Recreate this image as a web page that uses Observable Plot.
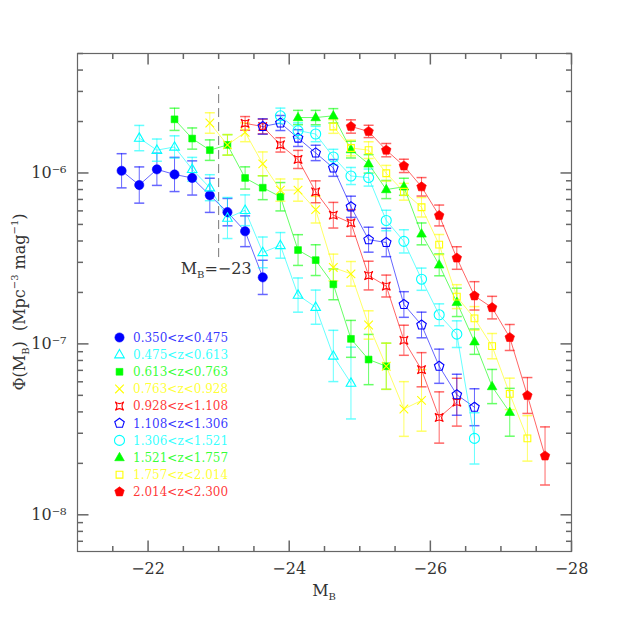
<!DOCTYPE html>
<html><head><meta charset="utf-8">
<script src="https://cdn.jsdelivr.net/npm/d3@7"></script>
<script src="https://cdn.jsdelivr.net/npm/@observablehq/plot@0.6"></script>
<style>html,body{margin:0;padding:0;background:#fff}svg{display:block}</style>
</head><body><div id="chart"></div>
<script>
// ---- data (absolute magnitude M_B, space density Phi, log error in dex) ----
const magS1 = [-21.625,-21.875,-22.125,-22.375,-22.625,-22.875,-23.125,-23.375,-23.625];
const phiS1 = [1.03e-6,8.5e-7,1.05e-6,9.8e-7,9.35e-7,7.4e-7,5.9e-7,4.56e-7,2.45e-7];
const errS1 = [0.10,0.106,0.094,0.10,0.10,0.10,0.08,0.09,0.10];

const magS2 = [-21.875,-22.125,-22.375,-22.625,-22.875,-23.125,-23.375,-23.625,-23.875,-24.125,-24.375,-24.625,-24.875];
const phiS2 = [1.6e-6,1.36e-6,1.42e-6,1.05e-6,8.2e-7,5.45e-7,6.05e-7,3.43e-7,3.77e-7,1.93e-7,1.64e-7,8.5e-8,5.9e-8];
const errS2 = [0.074,0.065,0.065,0.07,0.076,0.12,0.09,0.09,0.075,0.1,0.1,0.15,0.21];

const magS3 = [-22.375,-22.625,-22.875,-23.125,-23.375,-23.625,-23.875,-24.125,-24.375,-24.625,-24.875,-25.125,-25.375];
const phiS3 = [2.06e-6,1.59e-6,1.36e-6,1.46e-6,9.35e-7,8.2e-7,7.26e-7,3.54e-7,3.09e-7,2.23e-7,1.07e-7,8.1e-8,7.4e-8];
const errS3 = [0.065,0.062,0.06,0.06,0.065,0.07,0.083,0.09,0.09,0.09,0.108,0.147,0.135];

const magS4 = [-22.875,-23.125,-23.375,-23.625,-23.875,-24.125,-24.375,-24.625,-24.875,-25.125,-25.375,-25.625,-25.875];
const phiS4 = [1.96e-6,1.46e-6,1.73e-6,1.13e-6,7.94e-7,7.94e-7,6.1e-7,2.8e-7,2.57e-7,1.29e-7,7.4e-8,4.16e-8,4.67e-8];
const errS4 = [0.06,0.06,0.055,0.07,0.065,0.065,0.078,0.078,0.072,0.083,0.135,0.16,0.18];

const magS5 = [-23.375,-23.625,-23.875,-24.125,-24.375,-24.625,-24.875,-25.125,-25.375,-25.625,-25.875,-26.125,-26.375];
const phiS5 = [1.95e-6,1.87e-6,1.46e-6,1.2e-6,7.76e-7,5.66e-7,5.1e-7,2.51e-7,2.18e-7,1.05e-7,7.06e-8,3.71e-8,4.56e-8];
const errS5 = [0.04,0.043,0.042,0.053,0.064,0.075,0.078,0.084,0.064,0.088,0.1,0.15,0.14];

const magS6 = [-23.625,-23.875,-24.125,-24.375,-24.625,-24.875,-25.125,-25.375,-25.625,-25.875,-26.125,-26.375,-26.625];
const phiS6 = [1.87e-6,1.96e-6,1.6e-6,1.31e-6,1.07e-6,6.34e-7,4.07e-7,3.92e-7,1.7e-7,1.29e-7,7.4e-8,5.04e-8,4.26e-8];
const errS6 = [0.045,0.044,0.049,0.045,0.049,0.062,0.073,0.083,0.075,0.075,0.1,0.12,0.108];

const magS7 = [-23.875,-24.125,-24.375,-24.625,-24.875,-25.125,-25.375,-25.625,-25.875,-26.125,-26.375,-26.625];
const phiS7 = [2.16e-6,1.77e-6,1.69e-6,1.24e-6,9.6e-7,9.4e-7,5.27e-7,3.98e-7,2.39e-7,1.48e-7,1.14e-7,2.8e-8];
const errS7 = [0.045,0.045,0.045,0.045,0.05,0.05,0.06,0.068,0.065,0.064,0.078,0.15];

const magS8 = [-24.125,-24.375,-24.625,-24.875,-25.125,-25.375,-25.625,-25.875,-26.125,-26.375,-26.625,-26.875,-27.125];
const phiS8 = [2.11e-6,2.11e-6,2.16e-6,1.37e-6,1.13e-6,8.0e-7,8.3e-7,4.4e-7,2.9e-7,1.75e-7,1.03e-7,5.63e-8,3.98e-8];
const errS8 = [0.042,0.042,0.042,0.049,0.054,0.053,0.05,0.064,0.064,0.083,0.074,0.1,0.14];

const magS9 = [-24.625,-24.875,-25.125,-25.375,-25.625,-25.875,-26.125,-26.375,-26.625,-26.875,-27.125,-27.375];
const phiS9 = [1.87e-6,1.4e-6,1.36e-6,9.96e-7,7.76e-7,6.3e-7,3.81e-7,1.89e-7,1.41e-7,9.7e-8,5.1e-8,2.8e-8];
const errS9 = [0.04,0.046,0.049,0.046,0.049,0.057,0.059,0.07,0.069,0.074,0.092,0.133];

const magS10 = [-24.875,-25.125,-25.375,-25.625,-25.875,-26.125,-26.375,-26.625,-26.875,-27.125,-27.375,-27.625];
const phiS10 = [1.87e-6,1.75e-6,1.36e-6,1.1e-6,8.3e-7,5.64e-7,3.18e-7,1.91e-7,1.63e-7,1.09e-7,4.99e-8,2.21e-8];
const errS10 = [0.039,0.036,0.039,0.039,0.054,0.061,0.066,0.083,0.066,0.076,0.105,0.17];

const seriesLabels = ["0.350<z<0.475","0.475<z<0.613","0.613<z<0.763","0.763<z<0.928","0.928<z<1.108",
                      "1.108<z<1.306","1.306<z<1.521","1.521<z<1.757","1.757<z<2.014","2.014<z<2.300"];
const seriesColors = ["#0000ff","#00ffff","#00ff00","#ffff00","#ff0000","#0000ff","#00ffff","#00ff00","#ffff00","#ff0000"];
const seriesSymbols = ["circle","triangle","square","times","concave","pentagon","ring","triangle","square","pentagon"];
const seriesFilled = [true,false,true,false,false,false,false,true,false,true];

const xMajorTicks = [-22,-24,-26,-28];
const xMinorTicks = [-21.5,-22.5,-23,-23.5,-24.5,-25,-25.5,-26.5,-27,-27.5];
const yMajorTicks = [1e-8,1e-7,1e-6];
const cutMag = -23;          // M_B = -23 marker line
const cutRange = [3.2e-7, 3.2e-6];

// ---- symbols ----
const S = {
  circle:{draw(c){c.moveTo(4.6,0);c.arc(0,0,4.6,0,2*Math.PI);c.closePath();}},
  ring:{draw(c){c.moveTo(5,0);c.arc(0,0,5,0,2*Math.PI);c.closePath();}},
  triangle:{draw(c){c.moveTo(0,-5.2);c.lineTo(4.8,3.2);c.lineTo(-4.8,3.2);c.closePath();}},
  square:{draw(c){c.rect(-3.4,-3.4,6.8,6.8);}},
  times:{draw(c){const s=4.3;c.moveTo(-s,-s);c.lineTo(s,s);c.moveTo(s,-s);c.lineTo(-s,s);}},
  concave:{draw(c){const s=4.2,k=0.2*s;c.moveTo(-s,-s);c.quadraticCurveTo(0,-k,s,-s);c.quadraticCurveTo(k,0,s,s);
    c.quadraticCurveTo(0,k,-s,s);c.quadraticCurveTo(-k,0,-s,-s);c.closePath();}},
  pentagon:{draw(c){const r=5;for(let i=0;i<5;i++){const a=(-90+72*i)*Math.PI/180;const px=r*Math.cos(a),py=r*Math.sin(a);
    if(i===0)c.moveTo(px,py);else c.lineTo(px,py);}c.closePath();}}
};
const cap = {draw(c){c.moveTo(-5,0);c.lineTo(5,0);}};
const tick = (dx,dy)=>({draw(c){c.moveTo(0,0);c.lineTo(dx,dy);}});

const mags=[magS1,magS2,magS3,magS4,magS5,magS6,magS7,magS8,magS9,magS10];
const phis=[phiS1,phiS2,phiS3,phiS4,phiS5,phiS6,phiS7,phiS8,phiS9,phiS10];
const errs=[errS1,errS2,errS3,errS4,errS5,errS6,errS7,errS8,errS9,errS10];

const yMinorTicks=[];
for (let e=-9;e<=-6;e++) for (let k=2;k<=9;k++){const v=k*10**e; if(v>6.1e-9 && v<5e-6) yMinorTicks.push(v);}

const axisColor="#666";
const marks=[];
// inward ticks on all four sides
marks.push(Plot.dot(xMajorTicks,{x:d=>d,frameAnchor:"bottom",symbol:tick(0,-11),stroke:axisColor,fill:"none"}));
marks.push(Plot.dot(xMajorTicks,{x:d=>d,frameAnchor:"top",symbol:tick(0,11),stroke:axisColor,fill:"none"}));
marks.push(Plot.dot(xMinorTicks,{x:d=>d,frameAnchor:"bottom",symbol:tick(0,-5.5),stroke:axisColor,fill:"none"}));
marks.push(Plot.dot(xMinorTicks,{x:d=>d,frameAnchor:"top",symbol:tick(0,5.5),stroke:axisColor,fill:"none"}));
marks.push(Plot.dot(yMajorTicks,{y:d=>d,frameAnchor:"left",symbol:tick(11,0),stroke:axisColor,fill:"none"}));
marks.push(Plot.dot(yMajorTicks,{y:d=>d,frameAnchor:"right",symbol:tick(-11,0),stroke:axisColor,fill:"none"}));
marks.push(Plot.dot(yMinorTicks,{y:d=>d,frameAnchor:"left",symbol:tick(5.5,0),stroke:axisColor,fill:"none"}));
marks.push(Plot.dot(yMinorTicks,{y:d=>d,frameAnchor:"right",symbol:tick(-5.5,0),stroke:axisColor,fill:"none"}));
marks.push(Plot.frame({stroke:axisColor,strokeWidth:1.2}));
marks.push(Plot.axisX({ticks:xMajorTicks,tickSize:0,tickPadding:11,label:null,fontSize:16,
  fontFamily:"DejaVu Serif",fill:"#333",tickFormat:d=>"\u2212"+Math.abs(d)}));
const sup={"-":"\u207b","6":"\u2076","7":"\u2077","8":"\u2078"};
marks.push(Plot.axisY({ticks:yMajorTicks,tickSize:0,tickPadding:11,label:null,fontSize:16,
  fontFamily:"DejaVu Serif",fill:"#333",
  tickFormat:d=>"10"+String(Math.round(Math.log10(d))).split("").map(ch=>sup[ch]).join("")}));
marks.push(Plot.ruleX([{m:cutMag,y1:cutRange[0],y2:cutRange[1]}],{x:"m",y1:"y1",y2:"y2",stroke:"#777",strokeDasharray:"9,5"}));

const rowsAll = mags.map((ms,si)=>ms.map((m,i)=>({m,p:phis[si][i],lo:phis[si][i]*10**(-errs[si][i]),hi:phis[si][i]*10**(errs[si][i])})));
rowsAll.forEach((rows,si)=>{
  const col=seriesColors[si];
  marks.push(Plot.line(rows,{x:"m",y:"p",stroke:col,strokeOpacity:0.6,strokeWidth:1}));
  marks.push(Plot.ruleX(rows,{x:"m",y1:"lo",y2:"hi",stroke:col,strokeOpacity:0.6,strokeWidth:1}));
  marks.push(Plot.dot(rows,{x:"m",y:"lo",symbol:cap,stroke:col,strokeOpacity:0.6,fill:"none"}));
  marks.push(Plot.dot(rows,{x:"m",y:"hi",symbol:cap,stroke:col,strokeOpacity:0.6,fill:"none"}));
});
rowsAll.forEach((rows,si)=>{
  const col=seriesColors[si];
  const sym=S[seriesSymbols[si]];
  if (seriesFilled[si]) marks.push(Plot.dot(rows,{x:"m",y:"p",symbol:sym,fill:col,stroke:col,strokeWidth:0.6}));
  else marks.push(Plot.dot(rows,{x:"m",y:"p",symbol:sym,fill:"none",stroke:col,strokeWidth:1.1}));
});

const plot = Plot.plot({
  width:623,height:623,
  marginLeft:77,marginRight:52,marginTop:53,marginBottom:72,
  style:{fontFamily:"DejaVu Serif",background:"#fff",color:"#333"},
  x:{type:"linear",domain:[-21,-28]},
  y:{type:"log",domain:[6.1e-9,5e-6]},
  marks
});
document.getElementById("chart").appendChild(plot);

// ---- text annotations with sub/superscripts, and the legend ----
const svg=d3.select(plot);
const xs=plot.scale("x"), ys=plot.scale("y");
const ff="DejaVu Serif";
// x label
const xl=svg.append("text").attr("x",(xs.range[0]+xs.range[1])/2).attr("y",596).attr("text-anchor","middle")
  .attr("font-family",ff).attr("font-size",16).attr("fill","#333");
xl.append("tspan").text("M");
xl.append("tspan").attr("font-size",10).attr("dy",4).text("B");
// y label
const yl=svg.append("text").attr("transform","translate(25,302) rotate(-90)").attr("text-anchor","middle")
  .attr("font-family",ff).attr("font-size",16).attr("fill","#333");
yl.append("tspan").text("\u03a6(M");
yl.append("tspan").attr("font-size",10).attr("dy",4).text("B");
yl.append("tspan").attr("dy",-4).text(")  (Mpc");
yl.append("tspan").attr("font-size",10).attr("dy",-7).text("\u22123");
yl.append("tspan").attr("dy",7).text(" mag");
yl.append("tspan").attr("font-size",10).attr("dy",-7).text("\u22121");
yl.append("tspan").attr("dy",7).text(")");
// cut annotation
const an=svg.append("text").attr("x",xs.apply(cutMag)-2).attr("y",ys.apply(cutRange[0])+17).attr("text-anchor","middle")
  .attr("font-family",ff).attr("font-size",16).attr("fill","#333");
an.append("tspan").text("M");
an.append("tspan").attr("font-size",10).attr("dy",4).text("B");
an.append("tspan").attr("dy",-4).text("=\u221223");
// legend
const lg=svg.append("g");
seriesLabels.forEach((lab,i)=>{
  const y0=337.5+17.15*i, col=seriesColors[i];
  lg.append("path").attr("transform",`translate(119.5,${y0})`)
    .attr("d",d3.symbol(S[seriesSymbols[i]])())
    .attr("fill",seriesFilled[i]?col:"none").attr("stroke",col).attr("stroke-width",seriesFilled[i]?0.6:1.1);
  lg.append("text").attr("x",133).attr("y",y0).attr("dy","0.36em").attr("text-anchor","start")
    .attr("font-family",ff).attr("font-size",12)
    .attr("fill",col).attr("fill-opacity",0.8).text(lab);
});
</script>
</body></html>
